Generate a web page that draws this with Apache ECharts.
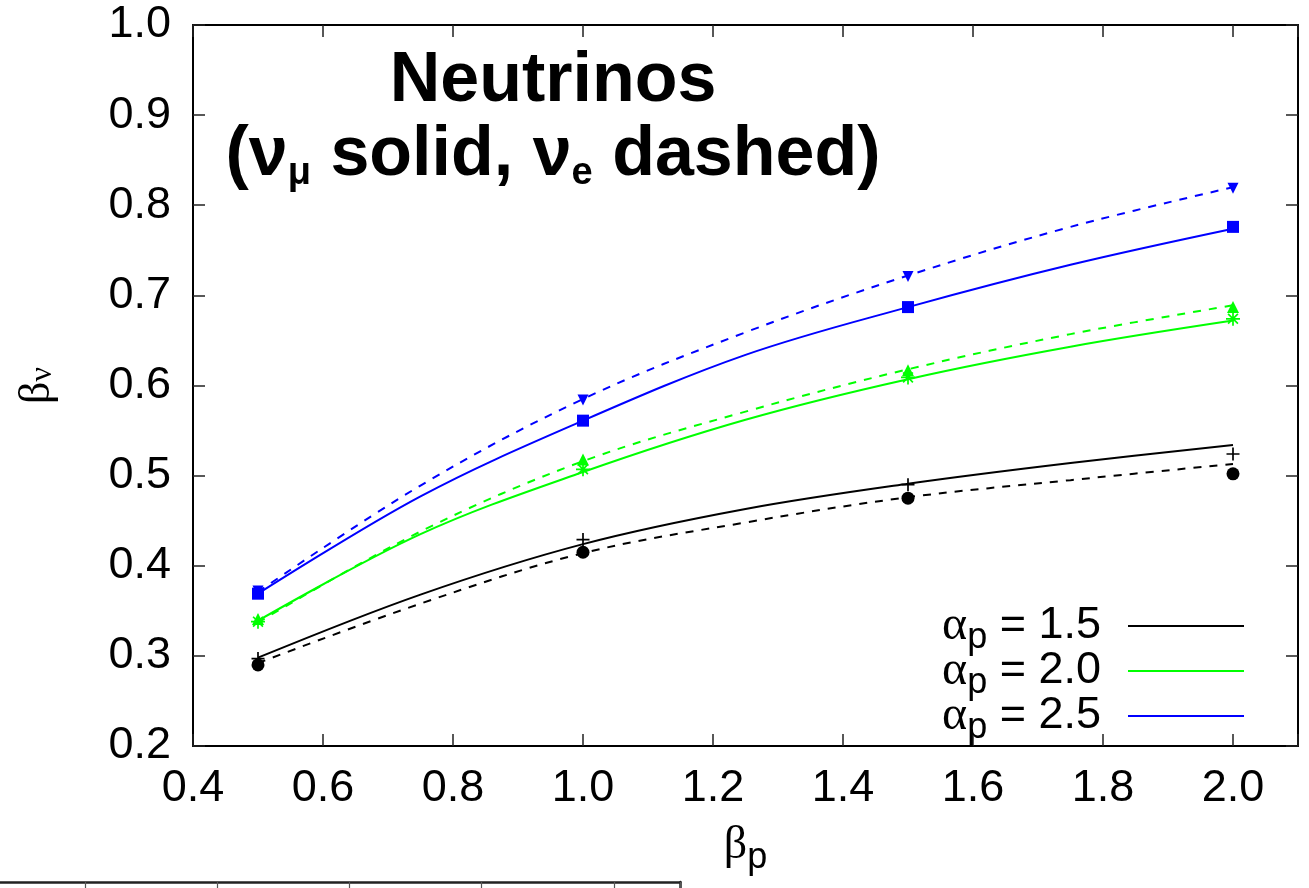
<!DOCTYPE html>
<html>
<head>
<meta charset="utf-8">
<title>Neutrinos</title>
<script src="https://cdn.jsdelivr.net/npm/echarts@6/dist/echarts.min.js"></script>
<style>
  html, body { margin: 0; padding: 0; background: #fff; }
  #chart { width: 1309px; height: 888px; }
</style>
</head>
<body>
<div id="chart"></div>
<script>
// proton spectral index beta_p where the simulations were run
const betaP = [0.5, 1.0, 1.5, 2.0];
// beta_p grid along the fitted curves
const fitBeta = [0.5, 0.75, 1.0, 1.25, 1.5, 1.75, 2.0];

// simulated neutrino index beta_nu (nu_mu: points +,*,square ; nu_e: points dot,triangle up,triangle down)
const numuA15 = [0.297, 0.429, 0.490, 0.524];
const nueA15  = [0.290, 0.415, 0.475, 0.502];
const numuA20 = [0.338, 0.507, 0.609, 0.674];
const nueA20  = [0.341, 0.518, 0.617, 0.687];
const numuA25 = [0.369, 0.561, 0.687, 0.776];
const nueA25  = [0.372, 0.584, 0.721, 0.819];

// fitted curves (nu_mu solid, nu_e dashed)
const numuFitA15 = [0.298, 0.368, 0.424, 0.463, 0.491, 0.514, 0.534];
const nueFitA15  = [0.292, 0.358, 0.414, 0.448, 0.476, 0.495, 0.513];
const numuFitA20 = [0.339, 0.435, 0.504, 0.562, 0.607, 0.643, 0.672];
const nueFitA20  = [0.337, 0.438, 0.516, 0.571, 0.618, 0.657, 0.689];
const numuFitA25 = [0.369, 0.477, 0.561, 0.634, 0.687, 0.734, 0.774];
const nueFitA25  = [0.371, 0.489, 0.585, 0.659, 0.722, 0.776, 0.820];

const alphaLabels = ['1.5', '2.0', '2.5'];

const BLACK = '#000000', GREEN = '#00ff00', BLUE = '#0000ff';
const SANS = '"Liberation Sans", Arial, Helvetica, sans-serif';
const SERIF = '"Liberation Serif", "DejaVu Serif", serif';

const pairs = (xs, ys) => xs.map((x, i) => [x, ys[i]]);

const PLUS = 'path://M0,5L10,5M5,0L5,10';
const STAR = 'path://M0,5L10,5M5,0L5,10M1.5,1.5L8.5,8.5M8.5,1.5L1.5,8.5';

function fitLine(name, color, ys, dashed) {
  return {
    type: 'line', name, data: pairs(fitBeta, ys), smooth: 0.35,
    showSymbol: false, symbol: 'none', silent: true,
    lineStyle: { color, width: 2, type: dashed ? [8, 8] : 'solid' },
    itemStyle: { color }, z: 2
  };
}
function points(name, color, ys, symbol, size, stroked, rotate) {
  return {
    type: 'scatter', name, data: pairs(betaP, ys), symbol, symbolSize: size,
    symbolRotate: rotate || 0, silent: true,
    itemStyle: stroked
      ? { color: 'rgba(0,0,0,0)', borderColor: color, borderWidth: 1.7, opacity: 1 }
      : { color, opacity: 1 },
    z: 3
  };
}

const legendNames = alphaLabels.map(a => 'alpha_p = ' + a);

const tickLabelStyle = { color: '#000', fontFamily: SANS, fontSize: 45 };
const frameLine = { show: true, onZero: false, lineStyle: { color: '#000', width: 2 } };
const innerTick = { show: true, inside: true, length: 12, lineStyle: { color: '#222', width: 1.5 } };
const panelLine = { show: true, onZero: false, lineStyle: { color: '#222', width: 2.5 } };

const option = {
  animation: false,
  backgroundColor: '#fff',
  title: {
    text: '{b|Neutrinos}\n{b|(ν}{s|μ}{b| solid, ν}{s|e}{b| dashed)}',
    left: 553, top: 45, padding: 0, textAlign: 'center',
    textStyle: {
      rich: {
        b: { fontFamily: SANS, fontWeight: 'bold', fontSize: 70, lineHeight: 74, color: '#000' },
        s: { fontFamily: SANS, fontWeight: 'bold', fontSize: 38, lineHeight: 50, color: '#000', verticalAlign: 'bottom' }
      }
    }
  },
  legend: {
    data: legendNames,
    orient: 'vertical', align: 'right', right: 65, top: 596,
    icon: 'rect', itemWidth: 116, itemHeight: 2, itemGap: -15, padding: 0,
    selectedMode: false,
    formatter: name => '{g|α}{s|p}{t| = ' + name.split('= ')[1] + '}',
    textStyle: {
      padding: [0, 22, 0, 0],
      rich: {
        g: { fontFamily: SERIF, fontSize: 48, lineHeight: 44, color: '#000' },
        s: { fontFamily: SANS, fontSize: 36, lineHeight: 20, padding: [24, 0, 0, 0], color: '#000' },
        t: { fontFamily: SANS, fontSize: 45, lineHeight: 44, color: '#000' }
      }
    }
  },
  grid: [
    { left: 193, top: 25, right: 11, bottom: 142, outerBoundsMode: 'none' },
    // top edge of the next panel below
    { left: -47, top: 882, width: 727, height: 300, outerBoundsMode: 'none' }
  ],
  xAxis: [
    {
      type: 'value', gridIndex: 0, min: 0.4, max: 2.1, interval: 0.2,
      name: '{g|β}{s|p}', nameLocation: 'middle', nameGap: 78,
      nameTextStyle: {
        rich: {
          g: { fontFamily: SERIF, fontSize: 46, lineHeight: 44, color: '#000' },
          s: { fontFamily: SANS, fontSize: 36, lineHeight: 20, padding: [24, 0, 0, 0], color: '#000' }
        }
      },
      axisLine: frameLine, axisTick: innerTick, splitLine: { show: false },
      axisLabel: Object.assign({ margin: 20, formatter: v => (v > 2.05 ? '' : v.toFixed(1)) }, tickLabelStyle)
    },
    {
      type: 'value', gridIndex: 0, position: 'top', min: 0.4, max: 2.1, interval: 0.2,
      axisLine: frameLine, axisTick: innerTick, axisLabel: { show: false }, splitLine: { show: false }
    },
    {
      type: 'value', gridIndex: 1, position: 'top', min: 0, max: 5.5, interval: 1,
      axisLine: panelLine,
      axisTick: { show: true, inside: true, length: 12, lineStyle: { color: '#555', width: 1.2 } },
      axisLabel: { show: false }, splitLine: { show: false }
    }
  ],
  yAxis: [
    {
      type: 'value', gridIndex: 0, min: 0.2, max: 1.0, interval: 0.1,
      name: '{g|β}{s|ν}', nameLocation: 'middle', nameGap: 134, nameRotate: 90,
      nameTextStyle: {
        rich: {
          g: { fontFamily: SERIF, fontSize: 44, lineHeight: 44, color: '#000' },
          s: { fontFamily: SERIF, fontSize: 32, lineHeight: 20, padding: [18, 0, 6, 0], color: '#000' }
        }
      },
      axisLine: frameLine, axisTick: innerTick, splitLine: { show: false },
      axisLabel: Object.assign({ margin: 22, formatter: v => v.toFixed(1) }, tickLabelStyle)
    },
    {
      type: 'value', gridIndex: 0, position: 'right', min: 0.2, max: 1.0, interval: 0.1,
      axisLine: frameLine, axisTick: innerTick, axisLabel: { show: false }, splitLine: { show: false }
    },
    {
      type: 'value', gridIndex: 1, position: 'right', min: 0, max: 1,
      axisLine: panelLine,
      axisTick: { show: false }, axisLabel: { show: false }, splitLine: { show: false }
    }
  ],
  series: [
    fitLine(legendNames[0], BLACK, numuFitA15, false),
    fitLine('nue fit 1.5', BLACK, nueFitA15, true),
    fitLine(legendNames[1], GREEN, numuFitA20, false),
    fitLine('nue fit 2.0', GREEN, nueFitA20, true),
    fitLine(legendNames[2], BLUE, numuFitA25, false),
    fitLine('nue fit 2.5', BLUE, nueFitA25, true),
    points('numu 1.5', BLACK, numuA15, PLUS, 13, true),
    points('nue 1.5', BLACK, nueA15, 'circle', 13, false),
    points('numu 2.0', GREEN, numuA20, STAR, 14, true),
    points('nue 2.0', GREEN, nueA20, 'triangle', 12, false),
    points('numu 2.5', BLUE, numuA25, 'rect', 12, false),
    points('nue 2.5', BLUE, nueA25, 'triangle', 11, false, 180)
  ]
};

const chart = echarts.init(document.getElementById('chart'));
chart.setOption(option);
</script>
</body>
</html>
